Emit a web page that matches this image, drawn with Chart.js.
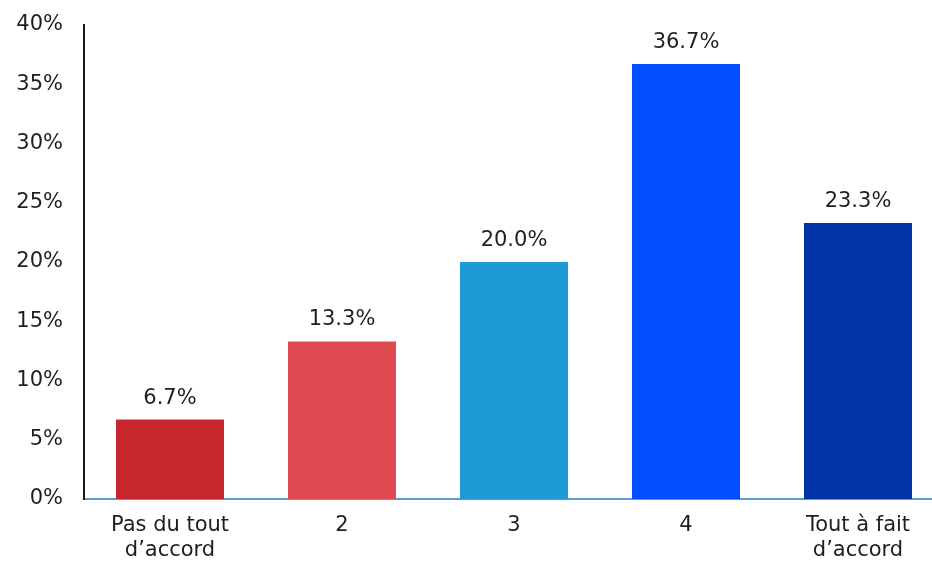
<!DOCTYPE html>
<html lang="fr">

<head>
    <meta charset="UTF-8">
    <title>Répartition des réponses</title>
    <style>
        html, body { margin: 0; padding: 0; overflow: hidden; background: #fff; }
    </style>
</head>

<body>

    <canvas id="myChart" width="944" height="563"></canvas>

    <script src="https://cdn.jsdelivr.net/npm/chart.js@4.4.1/dist/chart.umd.min.js"></script>

    <script>
        const categories = [['Pas du tout', 'd\u2019accord'], '2', '3', '4', ['Tout à fait', 'd\u2019accord']];
        const shares = [6.7, 13.3, 20.0, 36.7, 23.3];
        const barColors = ['#C8262E', '#DE4A50', '#1E9BD6', '#004EFF', '#0033A6'];
        const yTicks = [0, 5, 10, 15, 20, 25, 30, 35, 40];

        const font = { family: 'DejaVu Sans', size: 21 };
        const textColor = '#1f1f1f';

        // writes the percentage above each bar
        const valueLabels = {
            id: 'valueLabels',
            afterDatasetsDraw(chart) {
                const ctx = chart.ctx;
                const meta = chart.getDatasetMeta(0);
                ctx.save();
                ctx.font = `${font.size}px ${font.family}`;
                ctx.fillStyle = textColor;
                ctx.textAlign = 'center';
                ctx.textBaseline = 'alphabetic';
                meta.data.forEach((bar, i) => {
                    ctx.fillText(shares[i].toFixed(1) + '%', bar.x, bar.y - 16);
                });
                ctx.restore();
            }
        };

        const ctx = document.getElementById('myChart').getContext('2d');

        const chart = new Chart(ctx, {
            type: 'bar',
            data: {
                labels: categories,
                datasets: [{
                    data: shares,
                    backgroundColor: barColors,
                    barPercentage: 0.628,
                    categoryPercentage: 1.0
                }]
            },
            options: {
                responsive: false,
                animation: false,
                layout: { padding: { top: 25, right: 0, bottom: 0, left: 0 } },
                plugins: {
                    legend: { display: false },
                    tooltip: { enabled: false }
                },
                scales: {
                    x: {
                        grid: { display: false, drawTicks: false },
                        border: { display: true, color: '#5B9BD5', width: 2 },
                        ticks: { color: textColor, font: font, padding: 14, maxRotation: 0 },
                        afterFit(scale) { scale.height = 64; }
                    },
                    y: {
                        min: 0,
                        max: 40,
                        grid: { display: false, drawTicks: false },
                        border: { display: true, color: '#1a1a1a', width: 2 },
                        afterBuildTicks(scale) { scale.ticks = yTicks.map(v => ({ value: v })); },
                        ticks: {
                            color: textColor,
                            font: font,
                            padding: 21,
                            callback: v => v + '%'
                        },
                        afterFit(scale) {
                            scale.width = 84;
                            scale.paddingTop = 0;
                            scale.paddingBottom = 0;
                        }
                    }
                }
            },
            plugins: [valueLabels]
        });
    </script>

</body>

</html>
